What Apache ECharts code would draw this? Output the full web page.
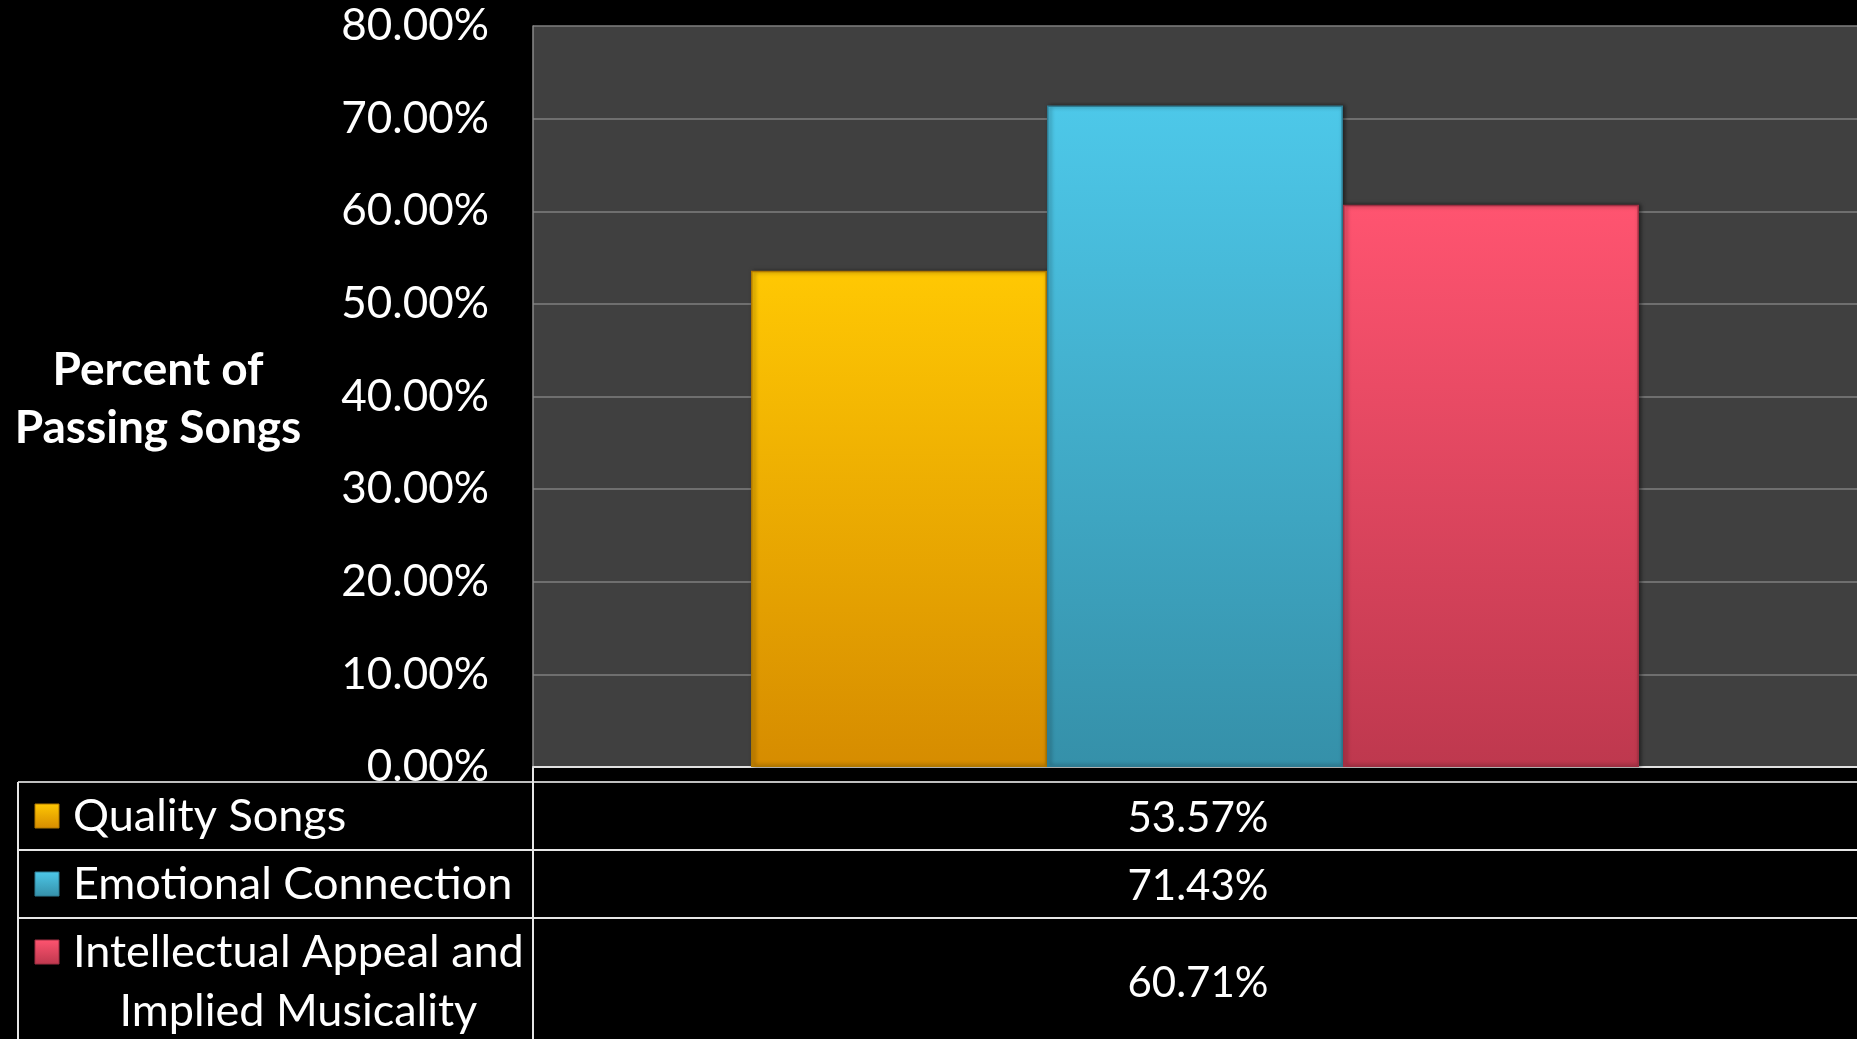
<!DOCTYPE html>
<html>
<head>
<meta charset="utf-8">
<script src="https://cdn.jsdelivr.net/npm/echarts@6/dist/echarts.min.js"></script>
<style>
html,body{margin:0;padding:0;background:#000;}
#c{width:1857px;height:1039px;}
</style>
</head>
<body>
<div id="c"></div>
<script>
// ---- data ----
const seriesNames = ['Quality Songs', 'Emotional Connection', 'Intellectual Appeal and\nImplied Musicality'];
const seriesValues = [53.57, 71.43, 60.71];
const categories = [''];
const yAxisTitle = 'Percent of\nPassing Songs';
const yMin = 0, yMax = 80, yInterval = 10;

// ---- styles ----
const topColors = ['#FFC803', '#4DC8E9', '#FF5470'];
const bottomColors = ['#D68C00', '#3590A9', '#BE384E'];
const borderColors = ['#B07800', '#2E7C93', '#9E2F42'];
const FONT = 'Lato, "Open Sans", sans-serif';

const W = 1857, H = 1039;
const gridLeft = 533, gridTop = 26, plotBottom = 767, gridWidth = 1330;
const tableLeft = 18, tableDivider = 533;
const rowLines = [782, 850, 918, 1045];
const labelX = 73, squareX = 35, squareSize = 24;
const labelFont = 45, valueFont = 42;

const chart = echarts.init(document.getElementById('c'));

function grad(i) {
  return new echarts.graphic.LinearGradient(0, 0, 0, 1, [
    {offset: 0, color: topColors[i]},
    {offset: 1, color: bottomColors[i]}
  ]);
}

const measureCtx = document.createElement('canvas').getContext('2d');
function textWidth(t, size, weight) {
  measureCtx.font = (weight || 'normal') + ' ' + size + 'px ' + FONT;
  return Math.max.apply(null, t.split('\n').map(s => measureCtx.measureText(s).width));
}

const series = seriesNames.map((n, i) => ({
  name: n,
  type: 'bar',
  data: [seriesValues[i]],
  barWidth: 296,
  barGap: '0%',
  itemStyle: {
    color: grad(i),
    borderColor: borderColors[i],
    borderWidth: 1.5,
    shadowColor: 'rgba(0,0,0,0.5)',
    shadowBlur: 4,
    shadowOffsetX: 2
  }
}));

// ---- table graphics ----
const graphics = [];
const lineStyleTop = {stroke: '#bfbfbf', lineWidth: 2};
const lineStyle = {stroke: '#e6e6e6', lineWidth: 2};
rowLines.slice(0, 3).forEach((y, k) => {
  graphics.push({type: 'line', shape: {x1: tableLeft, y1: y, x2: W, y2: y}, style: k === 0 ? lineStyleTop : lineStyle, silent: true});
});
graphics.push({type: 'line', shape: {x1: tableLeft, y1: rowLines[0], x2: tableLeft, y2: H}, style: lineStyle, silent: true});
graphics.push({type: 'line', shape: {x1: tableDivider, y1: plotBottom, x2: tableDivider, y2: H}, style: lineStyle, silent: true});

const valueCenterX = gridLeft + gridWidth / 2;
seriesNames.forEach((n, i) => {
  const rowTop = rowLines[i], rowBot = rowLines[i + 1];
  const cy = (rowTop + rowBot) / 2;
  const lines = n.split('\n');
  const lineH = 59;
  const firstLineY = cy - (lines.length - 1) * lineH / 2;
  graphics.push({
    type: 'rect',
    shape: {x: squareX, y: firstLineY - squareSize / 2, width: squareSize, height: squareSize},
    style: {fill: grad(i), stroke: borderColors[i], lineWidth: 1},
    silent: true
  });
  const w = textWidth(n, labelFont);
  graphics.push({
    type: 'text',
    x: labelX + w / 2,
    y: cy,
    style: {
      text: n, fill: '#fff', font: labelFont + 'px ' + FONT,
      align: 'center', verticalAlign: 'middle', lineHeight: lineH
    },
    silent: true
  });
  graphics.push({
    type: 'text',
    x: valueCenterX,
    y: cy + 2,
    style: {
      text: seriesValues[i].toFixed(2) + '%', fill: '#fff', font: valueFont + 'px ' + FONT,
      align: 'center', verticalAlign: 'middle'
    },
    silent: true
  });
});

graphics.push({
  type: 'text',
  x: 158,
  y: 399,
  style: {
    text: yAxisTitle, fill: '#fff', font: 'bold 46px ' + FONT,
    align: 'center', verticalAlign: 'middle', lineHeight: 58
  },
  silent: true
});

chart.setOption({
  backgroundColor: '#000',
  animation: false,
  grid: {
    left: gridLeft, top: gridTop, width: gridWidth, bottom: H - plotBottom,
    show: true, backgroundColor: '#404040', borderWidth: 0
  },
  xAxis: {
    type: 'category',
    data: categories,
    axisLine: {show: true, lineStyle: {color: '#e0e0e0', width: 2}},
    axisTick: {show: false},
    axisLabel: {show: false}
  },
  yAxis: {
    type: 'value',
    min: yMin, max: yMax, interval: yInterval,
    axisLine: {show: true, lineStyle: {color: '#8a8a8a', width: 1.5}},
    axisTick: {show: false},
    splitLine: {show: true, lineStyle: {color: '#7f7f7f', width: 1.5}},
    axisLabel: {
      color: '#fff', fontSize: 44, fontFamily: FONT, margin: 44,
      formatter: v => v.toFixed(2) + '%'
    }
  },
  series: series,
  graphic: graphics
});
</script>
</body>
</html>
